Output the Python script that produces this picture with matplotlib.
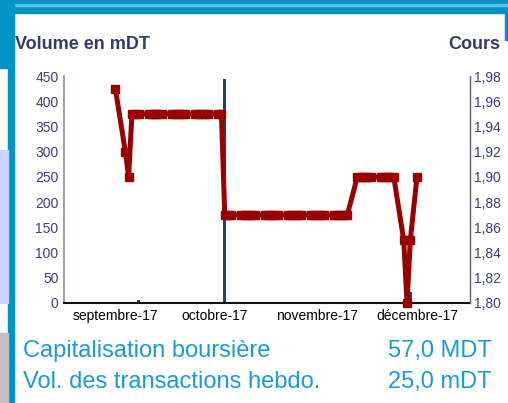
import datetime as dt
import matplotlib
matplotlib.use("Agg")
import matplotlib.pyplot as plt
from matplotlib.patches import Rectangle
from matplotlib.ticker import FuncFormatter, MultipleLocator

plt.rcParams['font.family'] = ['Liberation Sans', 'DejaVu Sans']

# cours journalier (seances de bourse)
price_dates = [
    "2017-09-01", "2017-09-04", "2017-09-05", "2017-09-06", "2017-09-07", "2017-09-08",
    "2017-09-11", "2017-09-12", "2017-09-13", "2017-09-14", "2017-09-15",
    "2017-09-18", "2017-09-19", "2017-09-20", "2017-09-21", "2017-09-22",
    "2017-09-25", "2017-09-26", "2017-09-27", "2017-09-28", "2017-09-29",
    "2017-10-02", "2017-10-03", "2017-10-04", "2017-10-05", "2017-10-06",
    "2017-10-09", "2017-10-10", "2017-10-11", "2017-10-12", "2017-10-13",
    "2017-10-16", "2017-10-17", "2017-10-18", "2017-10-19", "2017-10-20",
    "2017-10-23", "2017-10-24", "2017-10-25", "2017-10-26", "2017-10-27",
    "2017-10-30", "2017-10-31", "2017-11-01", "2017-11-02", "2017-11-03",
    "2017-11-06", "2017-11-07", "2017-11-08", "2017-11-09", "2017-11-10",
    "2017-11-13", "2017-11-14", "2017-11-15", "2017-11-16", "2017-11-17",
    "2017-11-20", "2017-11-21", "2017-11-22", "2017-11-23", "2017-11-24",
    "2017-11-27", "2017-11-28", "2017-11-29", "2017-12-01",
]
prices = [
    1.97, 1.92, 1.90, 1.95, 1.95, 1.95,
    1.95, 1.95, 1.95, 1.95, 1.95,
    1.95, 1.95, 1.95, 1.95, 1.95,
    1.95, 1.95, 1.95, 1.95, 1.95,
    1.95, 1.95, 1.87, 1.87, 1.87,
    1.87, 1.87, 1.87, 1.87, 1.87,
    1.87, 1.87, 1.87, 1.87, 1.87,
    1.87, 1.87, 1.87, 1.87, 1.87,
    1.87, 1.87, 1.87, 1.87, 1.87,
    1.87, 1.87, 1.87, 1.87, 1.87,
    1.90, 1.90, 1.90, 1.90, 1.90,
    1.90, 1.90, 1.90, 1.90, 1.90,
    1.85, 1.80, 1.85, 1.90,
]

# volumes (mDT)
vol_dates = ["2017-09-05", "2017-09-08", "2017-09-21", "2017-10-04", "2017-10-25", "2017-11-29"]
volumes = [2, 6, 2, 444, 2, 22]

month_ticks = ["2017-09-01", "2017-10-01", "2017-11-01", "2017-12-01"]
month_labels = ["septembre-17", "octobre-17", "novembre-17", "décembre-17"]

info_labels = ["Capitalisation boursière", "Vol. des transactions hebdo."]
info_values = ["57,0 MDT", "25,0 mDT"]


def to_date(s):
    return dt.datetime.strptime(s, "%Y-%m-%d")


W, H = 508, 403
fig = plt.figure(figsize=(W / 100, H / 100), dpi=100)
fig.patch.set_facecolor("white")

# cadre de la page (bandeaux bleus)
blue = "#0093c6"
fig.patches.append(Rectangle((0, 1 - 13 / H), 1, 13 / H, transform=fig.transFigure, color=blue, zorder=0))
fig.patches.append(Rectangle((0, 1 - 5.5 / H), 1, 1 / H, transform=fig.transFigure, color="#5cc0e2", zorder=0))
fig.patches.append(Rectangle((8 / W, 0), 6 / W, 1, transform=fig.transFigure, color=blue, zorder=0))
fig.patches.append(Rectangle((0, 1 - 68 / H), 8 / W, 68 / H, transform=fig.transFigure, color=blue, zorder=0))
fig.patches.append(Rectangle((0, 1 - 303 / H), 8 / W, 153 / H, transform=fig.transFigure, color="#cbd3ff", zorder=0))
fig.patches.append(Rectangle((0, 0), 8 / W, 70 / H, transform=fig.transFigure, color="#c0c0c0", zorder=0))
fig.patches.append(Rectangle((505 / W, 1 - 40 / H), 3 / W, 27 / H, transform=fig.transFigure, color=blue, zorder=0))

ax = fig.add_axes([64 / W, 1 - 303 / H, (470 - 64) / W, (303 - 76) / H])
ax2 = ax.twinx()

vd = [to_date(d) for d in vol_dates]
ax.bar(vd, volumes, width=0.85, color="#2e3a6e", zorder=2)
ax.set_ylim(0, 450)
ax.yaxis.set_major_locator(MultipleLocator(50))

pd_ = [to_date(d) for d in price_dates]
ax2.plot(pd_, prices, color="#990000", lw=3.6, marker="s", markersize=5.8,
         solid_joinstyle="miter", clip_on=False, zorder=3)
ax2.set_ylim(1.80, 1.98)
ax2.yaxis.set_major_locator(MultipleLocator(0.02))
ax2.yaxis.set_major_formatter(FuncFormatter(lambda v, p: f"{v:.2f}".replace(".", ",")))

ax.set_xlim(dt.datetime(2017, 8, 16, 12), dt.datetime(2017, 12, 17))
ax.set_xticks([to_date(d) for d in month_ticks])
ax.set_xticklabels(month_labels)
ax.tick_params(axis="x", length=0, pad=4, labelsize=10, labelcolor="black")
ax.tick_params(axis="y", length=0, pad=4, labelsize=10, labelcolor="#3a3f78")
ax2.tick_params(axis="y", length=0, pad=3, labelsize=10, labelcolor="#3a3f78")

for a in (ax, ax2):
    a.spines["top"].set_visible(False)
ax.spines["right"].set_visible(False)
ax2.spines["left"].set_visible(False)
ax2.spines["bottom"].set_visible(False)
ax.spines["left"].set_color("#8a8aaa")
ax.spines["left"].set_linewidth(1.2)
ax.spines["bottom"].set_color("#111111")
ax.spines["bottom"].set_linewidth(1.5)
ax2.spines["right"].set_color("#5a5a88")
ax2.spines["right"].set_linewidth(1.0)

title_color = "#333a6e"
fig.text(15 / W, 1 - 49 / H, "Volume en mDT", fontsize=13, fontweight="bold",
         color=title_color, ha="left", va="baseline")
fig.text(500 / W, 1 - 49 / H, "Cours", fontsize=13, fontweight="bold",
         color=title_color, ha="right", va="baseline")

info_color = "#1a9ad6"
for i, (lab, val) in enumerate(zip(info_labels, info_values)):
    y = 1 - (357 + i * 31) / H
    fig.text(23 / W, y, lab, fontsize=17, color=info_color, ha="left", va="baseline")
    fig.text(492 / W, y, val, fontsize=17, color=info_color, ha="right", va="baseline")

fig.savefig("out.png", dpi=100)
